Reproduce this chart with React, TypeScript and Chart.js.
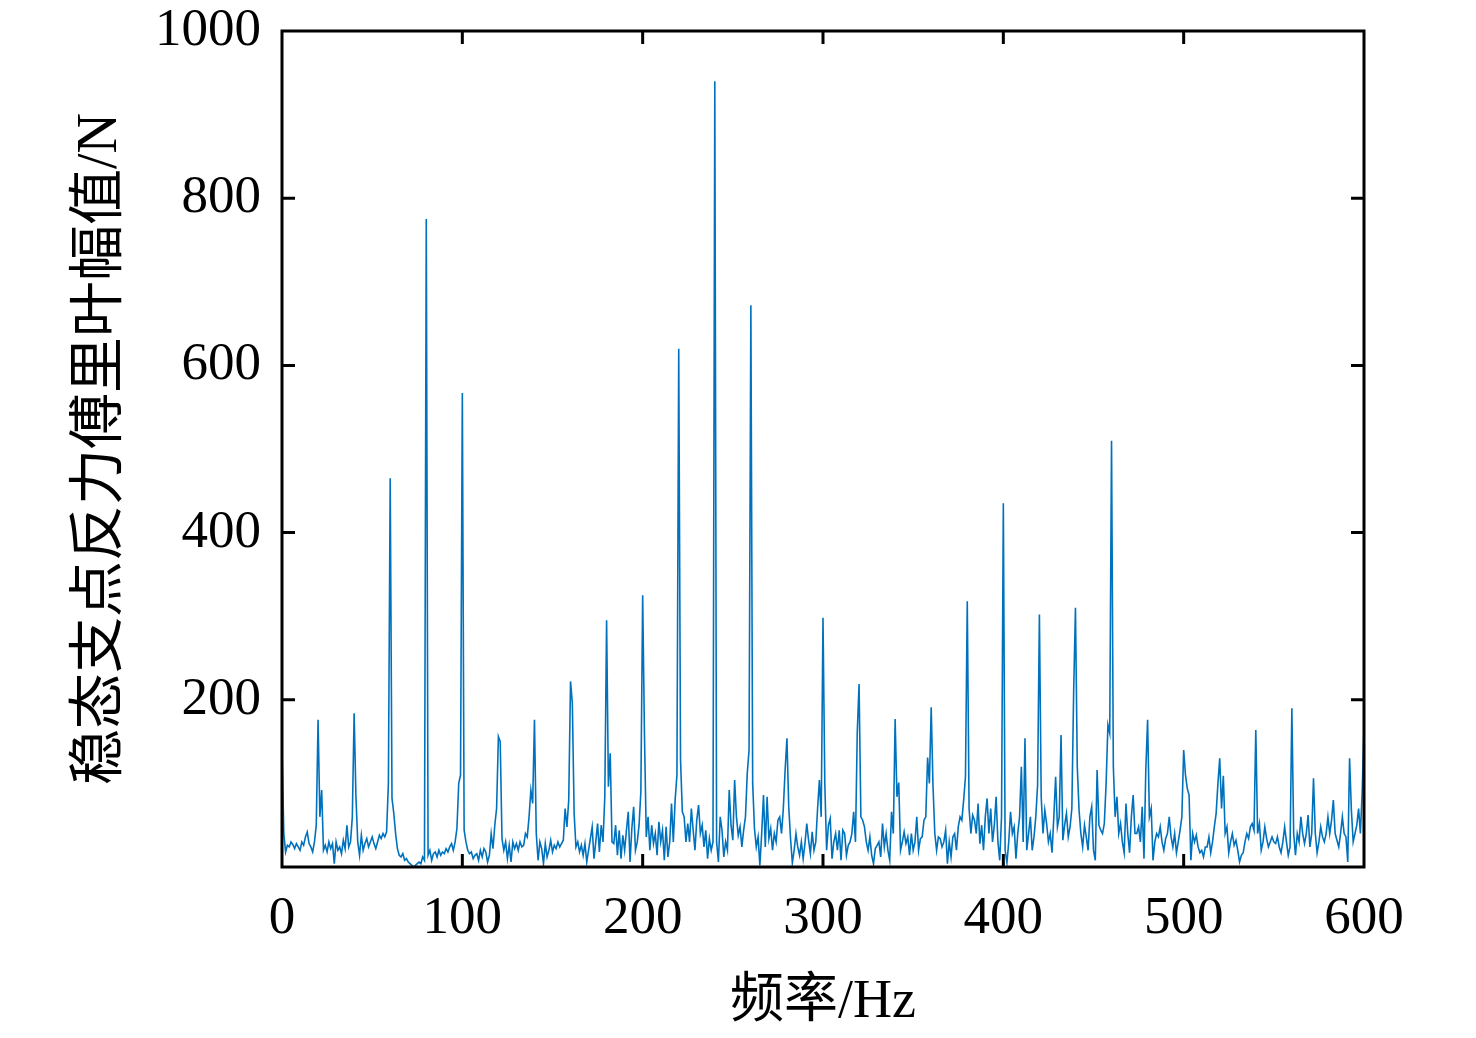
import { useEffect, useRef } from "react";
import { Chart, registerables } from "chart.js";
import type { Plugin } from "chart.js";

Chart.register(...registerables);

// spectrum amplitude (N), one value per Hz from 0 to 600 Hz
const amplitude = [
  142, 40, 18, 26, 24, 30, 27, 22, 28, 24, 20, 30, 26, 36, 42, 28, 24, 18, 30, 50,
  176, 60, 92, 20, 26, 18, 30, 22, 28, 4, 30, 20, 24, 16, 32, 22, 50, 24, 30, 60,
  184, 84, 30, 14, 38, 20, 28, 34, 24, 30, 36, 28, 22, 30, 38, 34, 40, 36, 42, 100,
  465, 82, 64, 40, 22, 14, 12, 16, 8, 10, 6, 4, 2, 0, 2, 4, 6, 4, 12, 8,
  775, 14, 20, 8, 16, 18, 12, 20, 14, 18, 16, 22, 18, 24, 28, 20, 30, 46, 100, 110,
  567, 44, 30, 20, 16, 18, 10, 14, 16, 8, 20, 12, 22, 18, 6, 14, 40, 22, 50, 70,
  156, 150, 34, 20, 30, 10, 26, 6, 30, 22, 28, 20, 30, 24, 26, 40, 36, 60, 92, 76,
  176, 40, 8, 30, 22, 4, 28, 12, 20, 32, 18, 26, 22, 30, 24, 28, 32, 70, 48, 80,
  222, 196, 64, 24, 30, 18, 26, 14, 28, 6, 20, 34, 48, 10, 30, 52, 18, 50, 30, 84,
  295, 96, 136, 30, 28, 50, 14, 44, 10, 38, 20, 44, 66, 6, 46, 72, 20, 30, 50, 90,
  325, 158, 36, 60, 20, 50, 28, 40, 14, 54, 30, 44, 8, 48, 12, 30, 76, 30, 80, 110,
  620, 128, 66, 60, 30, 52, 30, 70, 44, 20, 56, 74, 40, 50, 24, 44, 10, 34, 20, 30,
  940, 30, 6, 60, 44, 12, 30, 20, 92, 50, 32, 104, 60, 38, 48, 24, 44, 60, 112, 140,
  672, 100, 46, 24, 36, 2, 40, 86, 24, 84, 34, 46, 20, 40, 30, 56, 60, 40, 70, 116,
  154, 72, 34, 5, 20, 40, 24, 14, 30, 10, 28, 52, 32, 16, 42, 20, 30, 70, 104, 60,
  298, 100, 20, 50, 58, 10, 30, 40, 20, 44, 8, 44, 40, 14, 26, 30, 40, 66, 30, 161,
  219, 60, 56, 48, 30, 20, 36, 14, 4, 22, 26, 30, 12, 52, 24, 40, 20, 8, 66, 40,
  177, 84, 101, 20, 30, 42, 28, 36, 14, 40, 20, 30, 60, 20, 34, 36, 56, 60, 131, 100,
  191, 97, 40, 20, 36, 34, 24, 30, 44, 4, 30, 12, 36, 40, 20, 48, 60, 56, 80, 108,
  318, 70, 40, 62, 56, 40, 76, 28, 50, 20, 60, 82, 40, 70, 30, 50, 84, 30, 8, 60,
  435, 20, 5, 30, 66, 40, 48, 10, 40, 60, 120, 30, 154, 20, 40, 60, 20, 36, 60, 98,
  302, 84, 40, 68, 52, 30, 40, 17, 60, 108, 48, 60, 158, 32, 50, 64, 36, 48, 70, 210,
  310, 120, 68, 40, 24, 50, 36, 20, 60, 72, 20, 8, 116, 50, 44, 40, 52, 100, 170, 160,
  510, 120, 60, 84, 40, 52, 30, 17, 76, 40, 17, 60, 86, 40, 40, 48, 30, 72, 10, 116,
  176, 60, 70, 8, 30, 40, 36, 48, 30, 20, 34, 40, 60, 36, 24, 40, 17, 30, 44, 60,
  140, 110, 94, 86, 8, 40, 30, 38, 24, 17, 20, 12, 24, 24, 36, 17, 30, 48, 64, 100,
  130, 70, 109, 40, 48, 17, 30, 40, 26, 32, 20, 6, 14, 17, 30, 40, 34, 48, 52, 44,
  164, 40, 52, 20, 30, 48, 34, 24, 30, 36, 30, 28, 36, 24, 17, 30, 48, 30, 14, 24,
  190, 40, 14, 40, 30, 60, 40, 28, 40, 62, 24, 40, 106, 40, 17, 30, 48, 36, 30, 40,
  60, 40, 56, 80, 40, 32, 24, 40, 60, 40, 36, 6, 130, 68, 30, 40, 50, 70, 40, 90,
  168,
];
const freqStepHz = 1;

const xTicks = [0, 100, 200, 300, 400, 500, 600];
const yTicks = [0, 200, 400, 600, 800, 1000];
const yTickLabels = ["", "200", "400", "600", "800", "1000"];
const xTitle = "频率/Hz";
const yTitle = "稳态支点反力傅里叶幅值/N";

const FONT = "'Liberation Serif', 'Times New Roman', 'Noto Sans CJK SC', serif";

// box round the plot plus inward tick marks on all four sides
const framePlugin: Plugin = {
  id: "frame",
  afterDatasetsDraw: (chart) => {
    const { ctx, chartArea: a, scales } = chart;
    const len = 13;
    ctx.save();
    ctx.strokeStyle = "#000";
    ctx.lineWidth = 3;
    ctx.beginPath();
    xTicks.slice(1, -1).forEach((v) => {
      const px = scales.x.getPixelForValue(v);
      ctx.moveTo(px, a.bottom);
      ctx.lineTo(px, a.bottom - len);
      ctx.moveTo(px, a.top);
      ctx.lineTo(px, a.top + len);
    });
    yTicks.slice(1, -1).forEach((v) => {
      const py = scales.y.getPixelForValue(v);
      ctx.moveTo(a.left, py);
      ctx.lineTo(a.left + len, py);
      ctx.moveTo(a.right, py);
      ctx.lineTo(a.right - len, py);
    });
    ctx.stroke();
    ctx.strokeRect(a.left, a.top, a.right - a.left, a.bottom - a.top);
    ctx.restore();
  },
};

export default function App() {
  const ref = useRef<HTMLCanvasElement>(null);

  useEffect(() => {
    if (!ref.current) return;
    const chart = new Chart(ref.current, {
      type: "line",
      plugins: [framePlugin],
      data: {
        datasets: [
          {
            data: amplitude.map((v, i) => ({ x: i * freqStepHz, y: v })),
            borderColor: "#0072BD",
            borderWidth: 1.6,
            pointRadius: 0,
            tension: 0,
          },
        ],
      },
      options: {
        animation: false,
        responsive: true,
        maintainAspectRatio: false,
        layout: { padding: { left: 0, right: 112, top: 31, bottom: 0 } },
        plugins: { legend: { display: false }, tooltip: { enabled: false } },
        scales: {
          x: {
            type: "linear",
            min: 0,
            max: 600,
            grid: { display: false, drawTicks: false },
            border: { display: false },
            afterBuildTicks: (s) => {
              s.ticks = xTicks.map((v) => ({ value: v }));
            },
            afterFit: (s) => {
              s.height = 171;
              s.paddingLeft = 0;
              s.paddingRight = 0;
            },
            ticks: {
              color: "#000",
              padding: 20,
              maxRotation: 0,
              font: { family: FONT, size: 53 },
            },
            title: {
              display: true,
              text: xTitle,
              color: "#000",
              font: { family: FONT, size: 54 },
              padding: { top: 0, bottom: 3 },
            },
          },
          y: {
            min: 0,
            max: 1000,
            grid: { display: false, drawTicks: false },
            border: { display: false },
            afterBuildTicks: (s) => {
              s.ticks = yTicks.map((v) => ({ value: v }));
            },
            afterFit: (s) => {
              s.width = 282;
              s.paddingTop = 0;
              s.paddingBottom = 0;
            },
            ticks: {
              color: "#000",
              padding: 21,
              font: { family: FONT, size: 53 },
              callback: (_v, i) => yTickLabels[i],
            },
            title: {
              display: true,
              text: yTitle,
              color: "#000",
              font: { family: FONT, size: 56 },
              padding: { top: 68, bottom: 0 },
            },
          },
        },
      },
    });
    return () => chart.destroy();
  }, []);

  return (
    <div style={{ position: "absolute", left: 0, top: 0, width: 1476, height: 1038, background: "#fff" }}>
      <canvas ref={ref} />
    </div>
  );
}
